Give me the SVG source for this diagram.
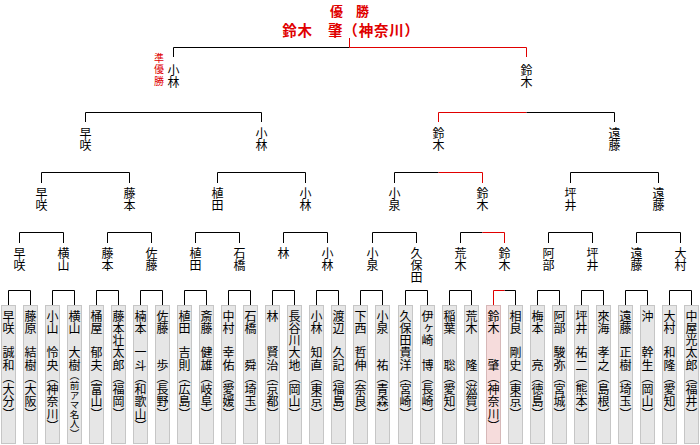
<svg xmlns="http://www.w3.org/2000/svg" width="700" height="445" viewBox="0 0 700 445">
<style>
.ln{fill:none;stroke:#000;stroke-width:1}
.rd{fill:none;stroke:#e00000;stroke-width:1}
.box{fill:#e6e6e6;stroke:#c6c6c6;stroke-width:1}
.win{fill:#f6dcdc;stroke:#d6b8b8;stroke-width:1}
text{font-family:"Noto Sans CJK JP","Noto Sans CJK SC",sans-serif}
.v{writing-mode:vertical-rl;font-size:12px;fill:#000}
.bt{writing-mode:vertical-rl;font-size:12px;fill:#000;letter-spacing:0.25px}
.sm{font-size:9.6px;letter-spacing:0}
.ttl{fill:#e00000;font-weight:bold;text-anchor:middle}
.ru{writing-mode:vertical-rl;font-size:10px;fill:#e00000;letter-spacing:1.5px}
</style>
<g id="title">
<text class="ttl" x="349.5" y="15.5" font-size="13">優　勝</text>
<text class="ttl" x="351" y="36" font-size="14.5" letter-spacing="0.8">鈴木　肇（神奈川）</text>
</g>
<g id="connectors">
<path class="ln" d="M173.5 57V47.5H349.5"/>
<path class="rd" d="M349.5 38V47.5H526.5V57"/>
<path class="ln" d="M85.5 122V112.5H261.5V122"/>
<path class="rd" d="M438.5 122V112.5H526.5"/>
<path class="ln" d="M526.5 112.5H614.5V122"/>
<path class="ln" d="M41.5 183V172.5H129.5V183M217.5 183V172.5H305.5V183M394.5 183V172.5H438.5M570.5 183V172.5H658.5V183"/>
<path class="rd" d="M438.5 172.5H482.5V183"/>
<path class="ln" d="M19.5 243V232.5H63.5V243M107.5 243V232.5H151.5V243M195.5 243V232.5H239.5V243M283.5 243V232.5H327.5V243M372.5 243V232.5H416.5V243M460.5 243V232.5H482.5M548.5 243V232.5H592.5V243M636.5 243V232.5H680.5V243"/>
<path class="rd" d="M482.5 232.5H504.5V243"/>
<path class="ln" d="M8.5 305V290.5H30.5V305M52.5 305V290.5H74.5V305M96.5 305V290.5H118.5V305M140.5 305V290.5H162.5V305M184.5 305V290.5H206.5V305M228.5 305V290.5H250.5V305M272.5 305V290.5H294.5V305M316.5 305V290.5H338.5V305M360.5 305V290.5H382.5V305M405.5 305V290.5H427.5V305M449.5 305V290.5H471.5V305M504.5 290.5H515.5V305M537.5 305V290.5H559.5V305M581.5 305V290.5H603.5V305M625.5 305V290.5H647.5V305M669.5 305V290.5H691.5V305"/>
<path class="rd" d="M493.5 305V290.5H504.5"/>
</g>
<g id="runnerup-mark"><text class="ru" x="159" y="53">準優勝</text></g>
<g id="semis">
<text class="v" x="173.5" y="64">小林</text>
<text class="v" x="526.5" y="64">鈴木</text>
</g>
<g id="round3">
<text class="v" x="85.5" y="127">早咲</text>
<text class="v" x="261.5" y="127">小林</text>
<text class="v" x="438.5" y="127">鈴木</text>
<text class="v" x="614.5" y="127">遠藤</text>
</g>
<g id="round2">
<text class="v" x="41.5" y="187">早咲</text>
<text class="v" x="129.5" y="187">藤本</text>
<text class="v" x="217.5" y="187">植田</text>
<text class="v" x="305.5" y="187">小林</text>
<text class="v" x="394.5" y="187">小泉</text>
<text class="v" x="482.5" y="187">鈴木</text>
<text class="v" x="570.5" y="187">坪井</text>
<text class="v" x="658.5" y="187">遠藤</text>
</g>
<g id="round1">
<text class="v" x="19.5" y="247">早咲</text>
<text class="v" x="63.5" y="247">横山</text>
<text class="v" x="107.5" y="247">藤本</text>
<text class="v" x="151.5" y="247">佐藤</text>
<text class="v" x="195.5" y="247">植田</text>
<text class="v" x="239.5" y="247">石橋</text>
<text class="v" x="283.5" y="247">林</text>
<text class="v" x="327.5" y="247">小林</text>
<text class="v" x="372.5" y="247">小泉</text>
<text class="v" x="416.5" y="247">久保田</text>
<text class="v" x="460.5" y="247">荒木</text>
<text class="v" x="504.5" y="247">鈴木</text>
<text class="v" x="548.5" y="247">阿部</text>
<text class="v" x="592.5" y="247">坪井</text>
<text class="v" x="636.5" y="247">遠藤</text>
<text class="v" x="680.5" y="247">大村</text>
</g>
<g id="players">
<g id="p01"><rect class="box" x="1.5" y="305.5" width="14" height="138"/><text class="bt" x="8.5" y="310">早咲　誠和（大分）</text></g>
<g id="p02"><rect class="box" x="23.5" y="305.5" width="14" height="138"/><text class="bt" x="30.5" y="310">藤原　結樹（大阪）</text></g>
<g id="p03"><rect class="box" x="45.5" y="305.5" width="14" height="138"/><text class="bt" x="52.5" y="310">小山　怜央（神奈川）</text></g>
<g id="p04"><rect class="box" x="67.5" y="305.5" width="14" height="138"/><text class="bt" x="74.5" y="310">横山　大樹<tspan class="sm">（前アマ名人）</tspan></text></g>
<g id="p05"><rect class="box" x="89.5" y="305.5" width="14" height="138"/><text class="bt" x="96.5" y="310">桶屋　郁夫（富山）</text></g>
<g id="p06"><rect class="box" x="111.5" y="305.5" width="14" height="138"/><text class="bt" x="118.5" y="310">藤本壮太郎（福岡）</text></g>
<g id="p07"><rect class="box" x="133.5" y="305.5" width="14" height="138"/><text class="bt" x="140.5" y="310">楠本　一斗（和歌山）</text></g>
<g id="p08"><rect class="box" x="155.5" y="305.5" width="14" height="138"/><text class="bt" x="162.5" y="310">佐藤　　歩（長野）</text></g>
<g id="p09"><rect class="box" x="177.5" y="305.5" width="14" height="138"/><text class="bt" x="184.5" y="310">植田　吉則（広島）</text></g>
<g id="p10"><rect class="box" x="199.5" y="305.5" width="14" height="138"/><text class="bt" x="206.5" y="310">斎藤　健雄（岐阜）</text></g>
<g id="p11"><rect class="box" x="221.5" y="305.5" width="14" height="138"/><text class="bt" x="228.5" y="310">中村　幸佑（愛媛）</text></g>
<g id="p12"><rect class="box" x="243.5" y="305.5" width="14" height="138"/><text class="bt" x="250.5" y="310">石橋　　舜（埼玉）</text></g>
<g id="p13"><rect class="box" x="265.5" y="305.5" width="14" height="138"/><text class="bt" x="272.5" y="310">林　　賢治（京都）</text></g>
<g id="p14"><rect class="box" x="287.5" y="305.5" width="14" height="138"/><text class="bt" x="294.5" y="310">長谷川大地（岡山）</text></g>
<g id="p15"><rect class="box" x="309.5" y="305.5" width="14" height="138"/><text class="bt" x="316.5" y="310">小林　知直（東京）</text></g>
<g id="p16"><rect class="box" x="331.5" y="305.5" width="14" height="138"/><text class="bt" x="338.5" y="310">渡辺　久記（福島）</text></g>
<g id="p17"><rect class="box" x="353.5" y="305.5" width="14" height="138"/><text class="bt" x="360.5" y="310">下西　哲伸（奈良）</text></g>
<g id="p18"><rect class="box" x="375.5" y="305.5" width="14" height="138"/><text class="bt" x="382.5" y="310">小泉　　祐（青森）</text></g>
<g id="p19"><rect class="box" x="398.5" y="305.5" width="14" height="138"/><text class="bt" x="405.5" y="310">久保田貴洋（宮崎）</text></g>
<g id="p20"><rect class="box" x="420.5" y="305.5" width="14" height="138"/><text class="bt" x="427.5" y="310">伊ヶ崎　博（長崎）</text></g>
<g id="p21"><rect class="box" x="442.5" y="305.5" width="14" height="138"/><text class="bt" x="449.5" y="310">稲葉　　聡（愛知）</text></g>
<g id="p22"><rect class="box" x="464.5" y="305.5" width="14" height="138"/><text class="bt" x="471.5" y="310">荒木　　隆（滋賀）</text></g>
<g id="p23"><rect class="win" x="486.5" y="305.5" width="14" height="138"/><text class="bt" x="493.5" y="310">鈴木　　肇（神奈川）</text></g>
<g id="p24"><rect class="box" x="508.5" y="305.5" width="14" height="138"/><text class="bt" x="515.5" y="310">相良　剛史（東京）</text></g>
<g id="p25"><rect class="box" x="530.5" y="305.5" width="14" height="138"/><text class="bt" x="537.5" y="310">梅本　　亮（徳島）</text></g>
<g id="p26"><rect class="box" x="552.5" y="305.5" width="14" height="138"/><text class="bt" x="559.5" y="310">阿部　駿弥（宮城）</text></g>
<g id="p27"><rect class="box" x="574.5" y="305.5" width="14" height="138"/><text class="bt" x="581.5" y="310">坪井　祐二（熊本）</text></g>
<g id="p28"><rect class="box" x="596.5" y="305.5" width="14" height="138"/><text class="bt" x="603.5" y="310">來海　孝之（島根）</text></g>
<g id="p29"><rect class="box" x="618.5" y="305.5" width="14" height="138"/><text class="bt" x="625.5" y="310">遠藤　正樹（埼玉）</text></g>
<g id="p30"><rect class="box" x="640.5" y="305.5" width="14" height="138"/><text class="bt" x="647.5" y="310">沖　　幹生（岡山）</text></g>
<g id="p31"><rect class="box" x="662.5" y="305.5" width="14" height="138"/><text class="bt" x="669.5" y="310">大村　和隆（愛知）</text></g>
<g id="p32"><rect class="box" x="684.5" y="305.5" width="14" height="138"/><text class="bt" x="691.5" y="310">中屋光太郎（福井）</text></g>
</g>
</svg>
